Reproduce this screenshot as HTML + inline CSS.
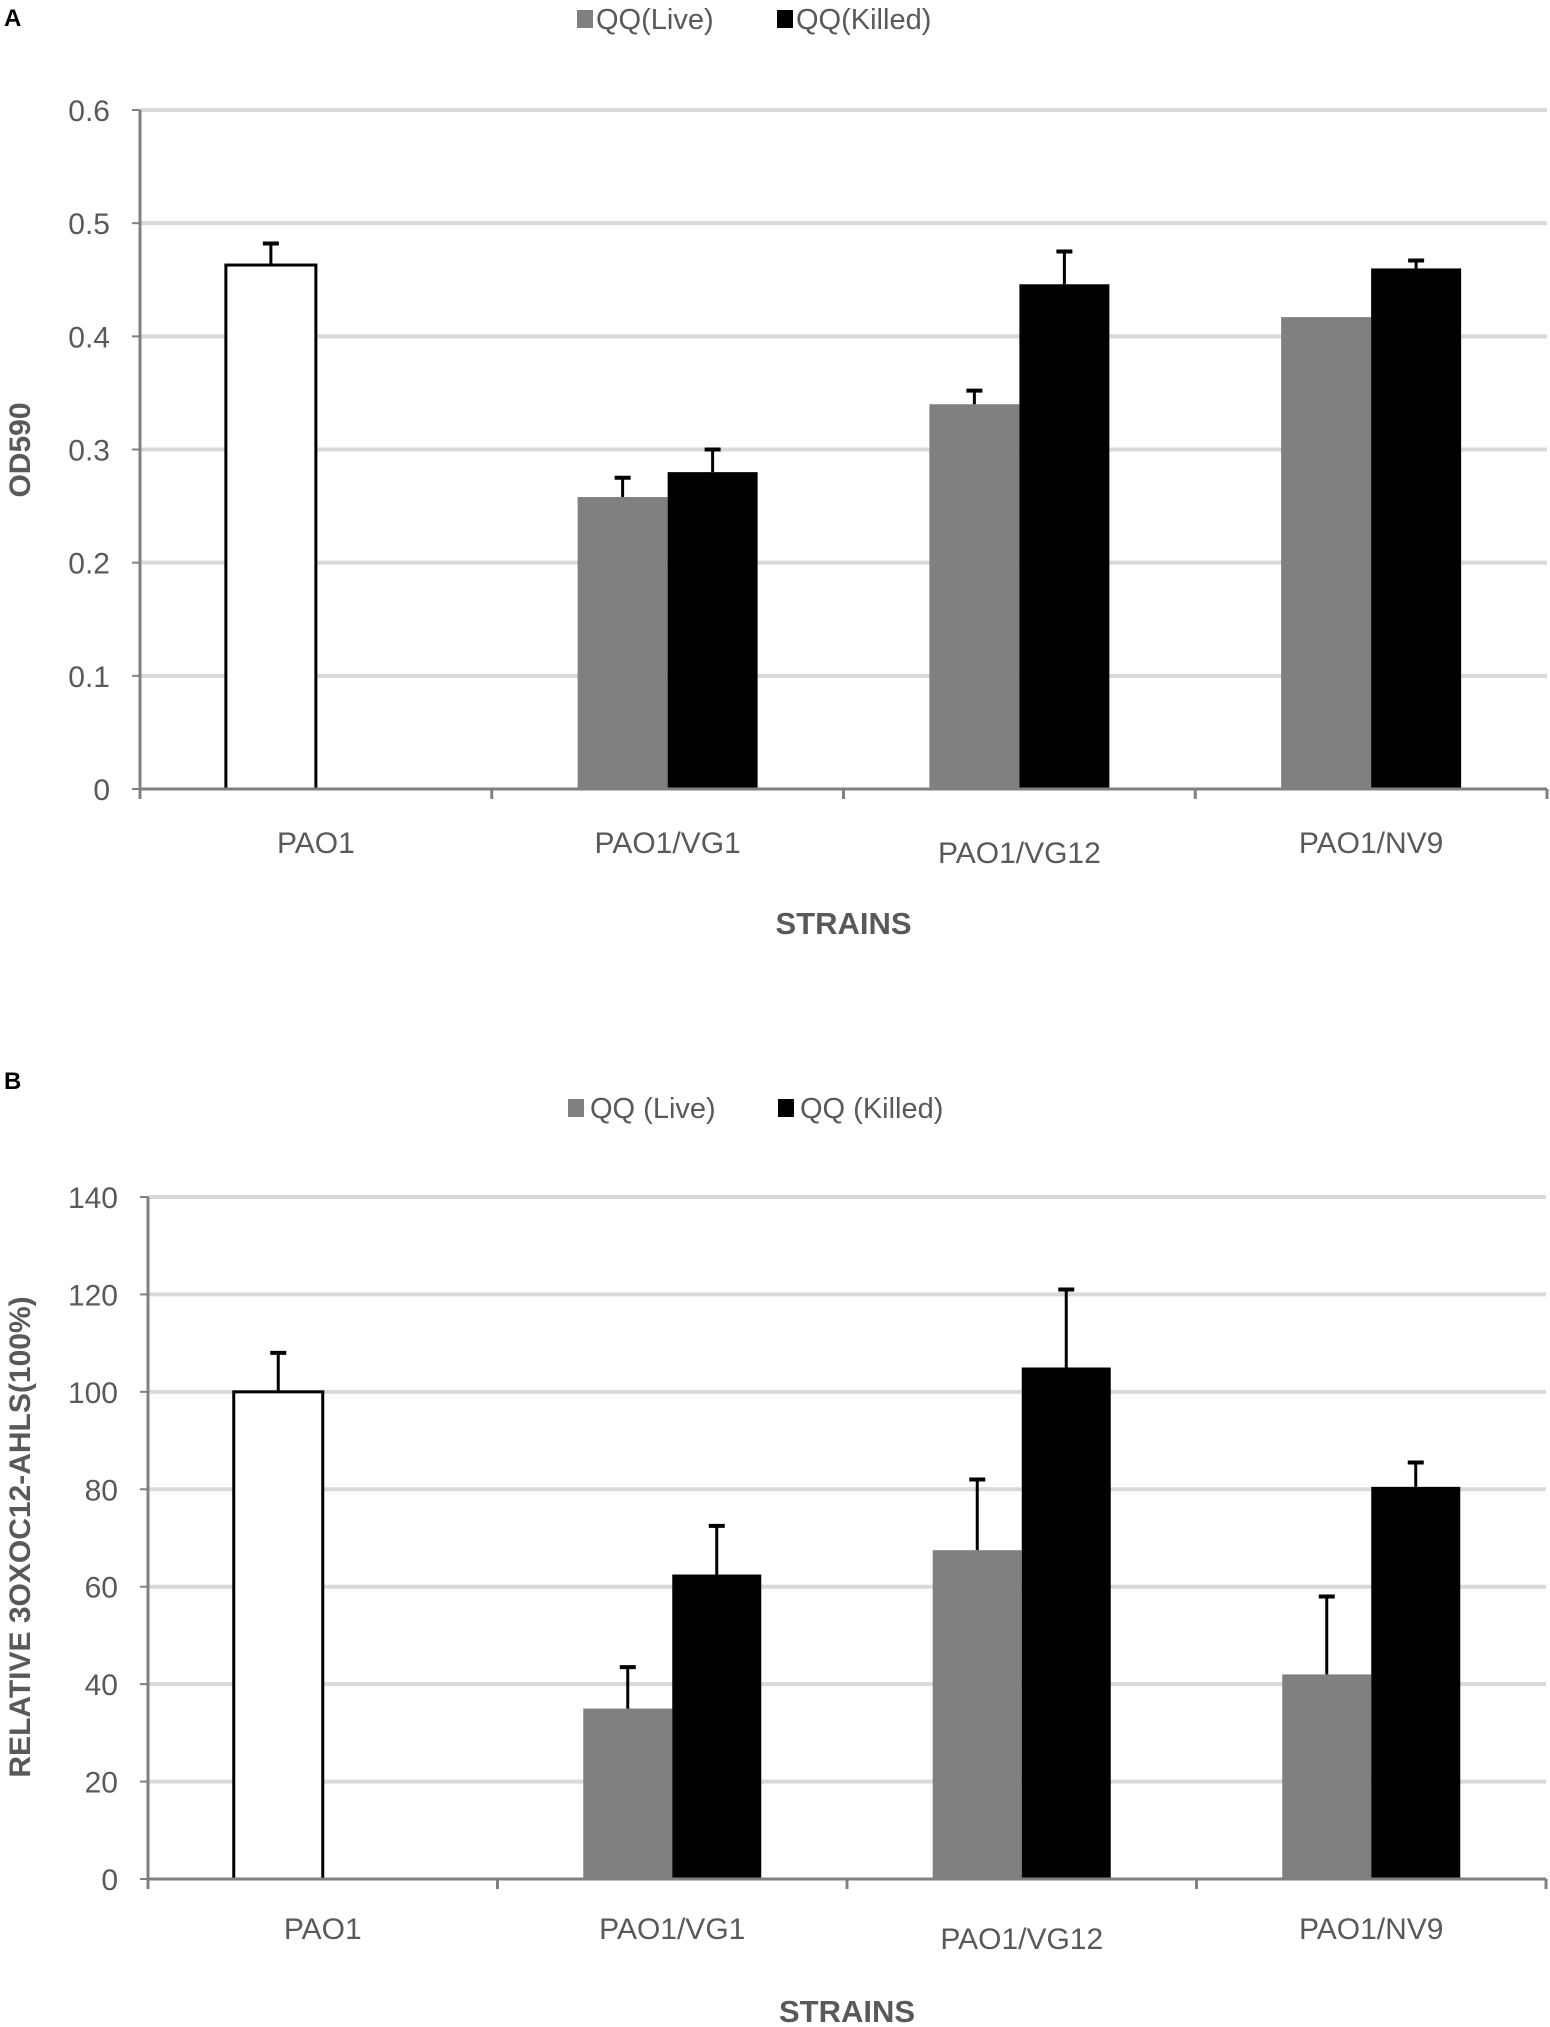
<!DOCTYPE html>
<html><head><meta charset="utf-8"><style>
html,body{margin:0;padding:0;background:#fff;}
svg{display:block;font-family:"Liberation Sans",sans-serif;}
</style></head><body>
<svg id="s" width="1550" height="2027"></svg>
<script>
const categories=["PAO1","PAO1/VG1","PAO1/VG12","PAO1/NV9"];
const aLive=[0.463,0.258,0.340,0.417];
const aLiveErr=[0.482,0.275,0.352,null];
const aKilled=[null,0.280,0.446,0.460];
const aKilledErr=[null,0.300,0.475,0.467];
const aTicks=[0,0.1,0.2,0.3,0.4,0.5,0.6];
const bLive=[100,35,67.5,42];
const bLiveErr=[108,43.5,82,58];
const bKilled=[null,62.5,105,80.5];
const bKilledErr=[null,72.5,121,85.5];
const bTicks=[0,20,40,60,80,100,120,140];

const NS="http://www.w3.org/2000/svg";
const svg=document.getElementById('s');
function mk(tag,attrs,parent,text){const e=document.createElementNS(NS,tag);for(const k in attrs)e.setAttribute(k,attrs[k]);if(text!==undefined)e.textContent=text;(parent||svg).appendChild(e);return e;}

function chart(o){
  const g=mk('g',{});
  
  
  const x0=o.x0,x1=o.x1,yT=o.yTop,yB=o.yBot,max=o.ticks[o.ticks.length-1];
  const y=v=>yB-(v/max)*(yB-yT);
  const cw=(x1-x0)/categories.length;
  const cx=i=>x0+cw*(i+0.5);
  const bw=o.bw;
  o.ticks.forEach((t,i)=>{
    if(t>0){const l=mk('line',{x1:x0,x2:x1,y1:y(t),y2:y(t),stroke:'#d9d9d9','stroke-width':4},g);
    }
    const tx=mk('text',{x:x0-30,y:y(t)+11,'text-anchor':'end','font-size':30,fill:'#595959'},g,String(t));
    
    mk('line',{x1:x0-8,x2:x0,y1:y(t),y2:y(t),stroke:'#808080','stroke-width':2},g);
  });
  function err(xc,v,e){
    if(e==null)return;
    const l=mk('line',{x1:xc,x2:xc,y1:y(v),y2:y(e),stroke:'#000','stroke-width':3},g);
    
    mk('line',{x1:xc-8,x2:xc+8,y1:y(e),y2:y(e),stroke:'#000','stroke-width':4},g);
  }
  categories.forEach((c,i)=>{
    const c0=cx(i);
    const lv=o.live[i];
    if(lv!=null){
      const r=mk('rect',{x:c0-bw,y:y(lv),width:bw,height:yB-y(lv),fill:i===0?'#fff':'#808080',stroke:i===0?'#000':'none','stroke-width':3},g);
      
      err(c0-bw/2,lv,o.liveErr[i]);
    }
    const kv=o.killed[i];
    if(kv!=null){
      const r=mk('rect',{x:c0,y:y(kv),width:bw,height:yB-y(kv),fill:'#000'},g);
      
      err(c0+bw/2,kv,o.killedErr[i]);
    }
    const t=mk('text',{x:c0,y:o.catY+(i===2?10:0),'text-anchor':'middle','font-size':30,fill:'#595959'},g,c);
    
  });
  const ax=mk('line',{x1:x0,x2:x0,y1:yT,y2:yB,stroke:'#808080','stroke-width':3},g);
  
  const xa=mk('line',{x1:x0,x2:x1,y1:yB,y2:yB,stroke:'#808080','stroke-width':3},g);
  
  for(let i=0;i<=categories.length;i++)mk('line',{x1:x0+cw*i,x2:x0+cw*i,y1:yB,y2:yB+10,stroke:'#808080','stroke-width':3},g);
  const xt=mk('text',{x:(x0+x1)/2,y:o.xTitleY,'text-anchor':'middle','font-size':31,'font-weight':'bold',fill:'#595959'},g,'STRAINS');
  
  const yt=mk('text',{x:0,y:0,transform:`translate(30,${o.yTitleY}) rotate(-90)`,'text-anchor':'middle','font-size':30,'font-weight':'bold',fill:'#595959'},g,o.yTitle);
  
  const pl=mk('text',{x:4,y:o.panelY,'font-size':24,'font-weight':'bold',fill:'#000'},g,o.panel);
  
  const lg=mk('g',{},g);
  
  o.legend.forEach((L,j)=>{
    const r=mk('rect',{x:L.sx,y:o.legY-19,width:16,height:18,fill:j===0?'#808080':'#000'},lg);
    
    const t=mk('text',{x:L.tx,y:o.legY,'font-size':29,fill:'#595959'},lg,L.label);
    
  });
}
chart({name:'chart-a',panel:'A',panelY:26,x0:140,x1:1547,yTop:110,yBot:789,ticks:aTicks,live:aLive,liveErr:aLiveErr,killed:aKilled,killedErr:aKilledErr,bw:90,catY:853,xTitleY:934,yTitle:'OD590',yTitleY:450,legY:29,legend:[{sx:577,tx:596,label:'QQ(Live)'},{sx:777,tx:796,label:'QQ(Killed)'}]});
chart({name:'chart-b',panel:'B',panelY:1089,x0:148,x1:1546,yTop:1197,yBot:1879,ticks:bTicks,live:bLive,liveErr:bLiveErr,killed:bKilled,killedErr:bKilledErr,bw:89,catY:1939,xTitleY:2022,yTitle:'RELATIVE 3OXOC12-AHLS(100%)',yTitleY:1537,legY:1118,legend:[{sx:568,tx:590,label:'QQ (Live)'},{sx:778,tx:800,label:'QQ (Killed)'}]});
</script>
</body></html>
